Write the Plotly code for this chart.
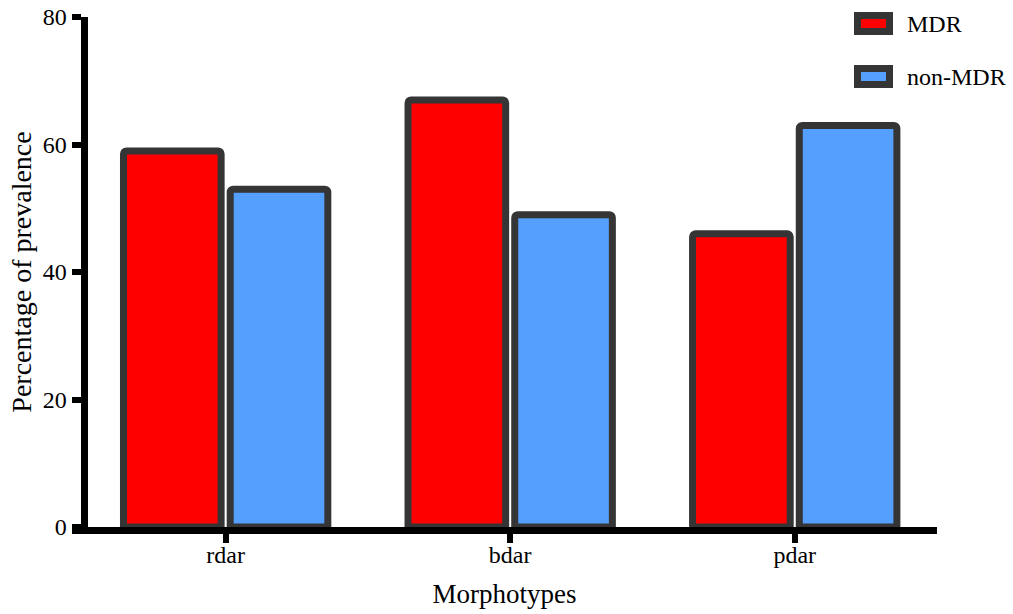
import plotly.graph_objects as go

categories = ["rdar", "bdar", "pdar"]
series_names = ["MDR", "non-MDR"]
mdr_values = [59, 67, 46]
non_mdr_values = [53, 49, 63]
y_ticks = [0, 20, 40, 60, 80]

colors = ["#FF0000", "#559FFF"]
edge = "#353535"
font_family = "Liberation Serif, Times New Roman, serif"

fig = go.Figure()
for name, vals, col in zip(series_names, [mdr_values, non_mdr_values], colors):
    fig.add_trace(go.Bar(
        x=categories, y=vals, name=name,
        marker=dict(color=col, line=dict(color=edge, width=7)),
        showlegend=False,
    ))

FIG_W, FIG_H = 1013, 614

# plot area geometry in pixels
L, R, T, B = 72, 937, 17, 527
W, H = R - L, B - T

def px(xp):
    return (xp - L) / W

def py(yp):
    return (B - yp) / H

# custom legend
shapes = []
annotations = []
leg_rows = [(12, 35, 24), (65, 88, 77)]
for (y0, y1, yc), name, col in zip(leg_rows, series_names, colors):
    shapes.append(dict(type="rect", xref="paper", yref="paper",
                       x0=px(857.5), x1=px(889.5), y0=py(y1 - 3.5), y1=py(y0 + 3.5),
                       line=dict(color=edge, width=7), fillcolor=col, layer="above"))
    annotations.append(dict(xref="paper", yref="paper", x=px(905), y=py(yc),
                            text=name, showarrow=False, xanchor="left", yanchor="middle",
                            font=dict(family=font_family, size=24, color="black")))

fig.update_layout(
    width=FIG_W, height=FIG_H,
    margin=dict(l=L, r=FIG_W - R, t=T, b=FIG_H - B),
    paper_bgcolor="white", plot_bgcolor="white",
    barmode="group", bargap=0.25, bargroupgap=0.085,
    barcornerradius=3,
    font=dict(family=font_family, size=24, color="black"),
    shapes=shapes, annotations=annotations,
    xaxis=dict(
        range=[-0.54, 2.5], showgrid=False, zeroline=False, automargin=False,
        showline=True, linecolor="black", linewidth=7,
        ticks="outside", ticklen=9, tickwidth=6, tickcolor="black",
        ticklabelstandoff=-9,
        tickfont=dict(family=font_family, size=24),
        title=dict(text="Morphotypes", font=dict(family=font_family, size=27), standoff=20),
    ),
    yaxis=dict(
        range=[0, 80], tickvals=y_ticks, showgrid=False, zeroline=False, automargin=False,
        anchor="free", position=px(83.5), ticklabeloverflow="allow",
        showline=True, linecolor="black", linewidth=7,
        ticks="outside", ticklen=9, tickwidth=6, tickcolor="black",
        tickfont=dict(family=font_family, size=24),
        title=dict(text="Percentage of prevalence", font=dict(family=font_family, size=28), standoff=1),
    ),
)

fig.write_html(
    "out.html",
    config={"displayModeBar": False},
    post_script="document.body.style.margin='0px';document.body.style.overflow='hidden';",
)
